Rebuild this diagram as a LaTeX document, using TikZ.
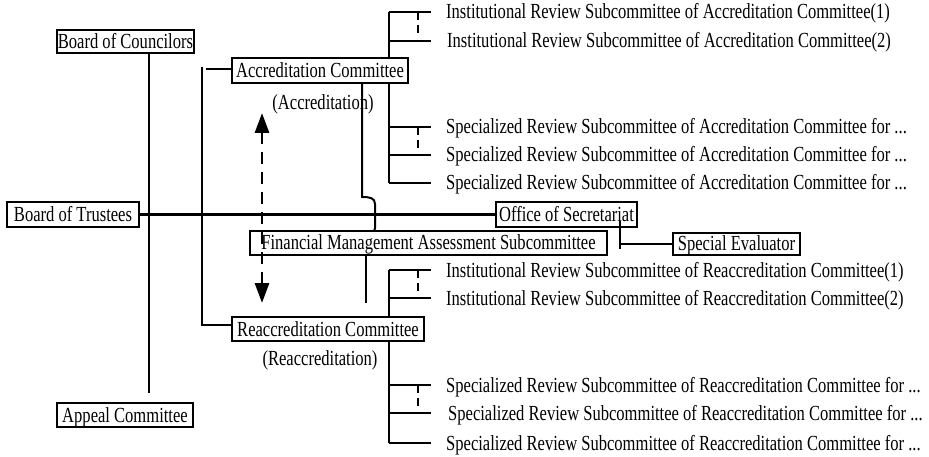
\documentclass[tikz,border=0pt]{standalone}
\usepackage{fontspec}
\setmainfont[FakeStretch=0.77]{Liberation Serif}
\usetikzlibrary{arrows.meta,backgrounds,calc}
\begin{document}
\begin{tikzpicture}[x=1pt,y=-1pt,
  txt/.style={font=\fontsize{21.5}{23}\selectfont},
  box/.style={txt,draw,line width=1.7pt,fill=white,inner sep=0pt,text height=14pt,text depth=0pt},
  lbl/.style={txt,inner sep=0pt,anchor=base west},
  ln/.style={line width=2pt},
  tree/.style={line width=2.4pt},
  trunkline/.style={line width=3pt},
  tdash/.style={line width=2.4pt,dash pattern=on 8pt off 5pt},
  darrow/.style={line width=2.8pt,dash pattern=on 12pt off 8pt,{Triangle[width=14pt,length=20pt]}-{Triangle[width=14pt,length=20pt]}}]
\useasboundingbox (0,0) rectangle (929,457);

% boxes
\node[box,minimum width=137pt,minimum height=23pt] (boc) at (125.5,41.5) {Board of Councilors};
\node[box,minimum width=132pt,minimum height=25pt] (bot) at (73,214.5) {Board of Trustees};
\node[box,minimum width=176pt,minimum height=25pt] (acc) at (320,70.5) {Accreditation Committee};
\node[box,minimum width=357pt,minimum height=24pt] (fin) at (428.5,243) {Financial Management Assessment Subcommittee};
\node[box,minimum width=141pt,minimum height=25pt] (off) at (566.5,214.5) {Office of Secretariat};
\node[box,minimum width=127pt,minimum height=22pt] (spe) at (736.5,244) {Special Evaluator};
\node[box,minimum width=192pt,minimum height=24pt] (rea) at (328,329) {Reaccreditation Committee};
\node[box,minimum width=136pt,minimum height=24pt] (app) at (125,415) {Appeal Committee};

% captions
\node[txt,inner sep=0pt] (acccap) at (323,104) {(Accreditation)};
\node[txt,inner sep=0pt] (reacap) at (320,360) {(Reaccreditation)};

% tree coordinates
\foreach \y/\n in {12/a1,41/a2,127/a3,155/a4,183/a5,270/r1,298/r2,385/r3,413/r4,443/r5}{
  \coordinate (t\n) at (389,\y);
  \coordinate (b\n) at (431,\y);
}

% subcommittee labels
\node[lbl] (la1) at (446,19) {Institutional Review Subcommittee of Accreditation Committee(1)};
\node[lbl] (la2) at (447,48) {Institutional Review Subcommittee of Accreditation Committee(2)};
\node[lbl] (la3) at (446,134) {Specialized Review Subcommittee of Accreditation Committee for ...};
\node[lbl] (la4) at (446,162) {Specialized Review Subcommittee of Accreditation Committee for ...};
\node[lbl] (la5) at (446,190) {Specialized Review Subcommittee of Accreditation Committee for ...};
\node[lbl] (lr1) at (446,277) {Institutional Review Subcommittee of Reaccreditation Committee(1)};
\node[lbl] (lr2) at (446,305) {Institutional Review Subcommittee of Reaccreditation Committee(2)};
\node[lbl] (lr3) at (446,392) {Specialized Review Subcommittee of Reaccreditation Committee for ...};
\node[lbl] (lr4) at (448,420) {Specialized Review Subcommittee of Reaccreditation Committee for ...};
\node[lbl] (lr5) at (446,450) {Specialized Review Subcommittee of Reaccreditation Committee for ...};

% helper coordinates
\coordinate (apl) at (149,393);
\coordinate (lb1) at (202,67);
\coordinate (lb2) at (202,325);
\coordinate (lt) at (206,69);
\coordinate (h1) at (362,197);
\coordinate (f2) at (366,303);
\coordinate (o1) at (620,221);
\coordinate (o2) at (620,249);
\coordinate (au) at (262,113);
\coordinate (ad) at (262,303);

\begin{pgfonlayer}{background}
  % councilors / appeal line
  \draw[ln] (boc.south -| apl) -- (apl);
  % trustees to secretariat
  \draw[trunkline] (bot.east) -- (off.west);
  % left bracket to committees
  \draw[ln] (lb1) -- (lb2) -- (lb2 -| rea.west);
  \draw[ln] (lt) -- (lt -| acc.west);
  % accreditation to financial with hop
  \draw[ln] (acc.south -| h1) -- (h1) .. controls (370,197) and (375,198) .. (375,204)
     -- (375,228) .. controls (375,232) and (371,233) .. (366,233);
  \draw[ln] (fin.south -| f2) -- (f2);
  % trees
  \draw[tree] (ta1) -- (ta5);
  \draw[tree] (tr1) -- (tr5);
  \foreach \n in {a1,a2,a3,a4,a5,r1,r2,r3,r4,r5}{\draw[tree] (t\n) -- (b\n);}
  \draw[tdash] ($(ta1)+(29,0)$) -- ($(ta2)+(29,-4)$);
  \draw[tdash] ($(ta3)+(29,0)$) -- ($(ta4)+(29,-4)$);
  \draw[tdash] ($(tr1)+(29,0)$) -- ($(tr2)+(29,-4)$);
  \draw[tdash] ($(tr3)+(29,0)$) -- ($(tr4)+(29,-4)$);
\end{pgfonlayer}

% dashed double arrow (drawn over the financial box)
\draw[darrow] (au) -- (ad);
% secretariat to special evaluator
\draw[ln] (o1) -- (o2);
\draw[ln] (o1 |- spe.west) -- (spe.west);
\end{tikzpicture}
\end{document}
